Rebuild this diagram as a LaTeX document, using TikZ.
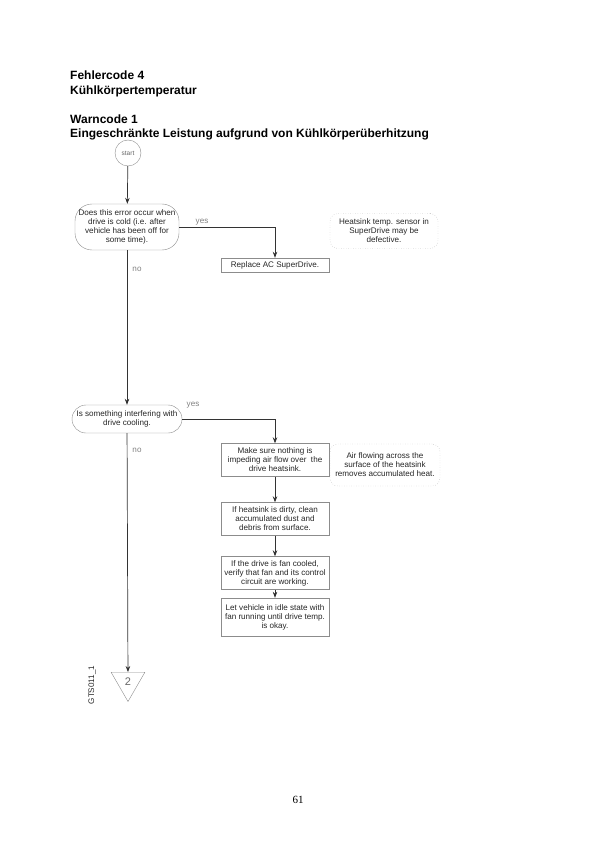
\documentclass[tikz,border=0pt]{standalone}
\usepackage{fontspec}
\setmainfont{Liberation Sans}[BoldFont={Liberation Sans Bold}]
\newfontfamily\pagefont{Liberation Serif}
\usetikzlibrary{shapes.geometric,arrows.meta}

\begin{document}
\begin{tikzpicture}[x=1pt,y=-1pt,
    every node/.style={font=\fontsize{8.1}{9}\selectfont,align=center,text=black!85},
    head/.style={anchor=base west,inner sep=0pt,font=\fontsize{12}{14}\selectfont\bfseries,text=black},
    box/.style={draw=black!45,inner sep=2pt,minimum width=108pt},
    ask/.style={draw=black!45,rounded corners=17pt,inner sep=2pt},
    note/.style={draw=black!40,dotted,rounded corners=8pt,inner sep=2pt,minimum width=108pt},
    lbl/.style={text=black!50},
    line/.style={draw=black!80,line width=0.7pt},
    >={Stealth[length=6pt,width=4.5pt]}]
  \useasboundingbox (0,0) rectangle (595,842);
  % title
  \node[head] (h1) at (70,80) {Fehlercode 4};
  \node[head] (h2) at (70,94.5) {Kühlkörpertemperatur};
  \node[head] (h3) at (70,123.5) {Warncode 1};
  \node[head] (h4) at (70,138) {Eingeschränkte Leistung aufgrund von Kühlkörperüberhitzung};
  % chart
  \node[circle,draw=black!45,minimum size=26pt,inner sep=0pt,font=\fontsize{6.5}{7}\selectfont,text=black!60] (start) at (128,153) {start};
  \node[ask,minimum width=104pt,minimum height=46pt] (q1) at (127,227)
    {Does this error occur when\\ drive is cold (i.e. after\\ vehicle has been off for\\ some time).};
  \node[box,minimum height=14pt] (r1) at (275,265) {Replace AC SuperDrive.};
  \node[note,minimum height=35pt] (n1) at (384,231)
    {Heatsink temp. sensor in\\ SuperDrive may be\\ defective.};
  \node[ask,rounded corners=14pt,minimum width=110pt,minimum height=28pt] (q2) at (127,419)
    {Is something interfering with\\ drive cooling.};
  \node[box,minimum height=33pt] (a1) at (275,460)
    {Make sure nothing is\\ impeding air flow over \ the\\ drive heatsink.};
  \node[note,minimum width=110pt,minimum height=42pt] (n2) at (385,465)
    {Air flowing across the\\ surface of the heatsink\\ removes accumulated heat.};
  \node[box,minimum height=33pt] (a2) at (275,519)
    {If heatsink is dirty, clean\\ accumulated dust and\\ debris from surface.};
  \node[box,minimum height=33pt] (a3) at (275,573)
    {If the drive is fan cooled,\\ verify that fan and its control\\ circuit are working.};
  \node[box,minimum height=38pt] (a4) at (275,617)
    {Let vehicle in idle state with\\ fan running until drive temp.\\ is okay.};
  \node[regular polygon,regular polygon sides=3,shape border rotate=180,draw=black!45,
    minimum size=39pt,inner sep=0pt,font=\fontsize{11}{12}\selectfont,text=black!60] (tri) at (128,682) {2};
  \node[rotate=90] (id) at (92,685) {GTS011\_1};
  % labels
  \node[lbl] (y1) at (202,222) {yes};
  \node[lbl] (o1) at (137,269) {no};
  \node[lbl] (y2) at (193,405) {yes};
  \node[lbl] (o2) at (137,450) {no};
  \path[line,->]
    (start) edge (q1)
    (q1) edge (q2)
    (q2) edge (tri)
    (a1) edge (a2)
    (a2) edge (a3)
    (a3) edge (a4);
  \draw[line,->] (q1.east) -| (r1.north);
  \draw[line,->] (q2.east) -| (a1.north);
  \node[font=\pagefont\fontsize{11}{13}\selectfont,text=black] (pg) at (298,800) {61};
\end{tikzpicture}
\end{document}
